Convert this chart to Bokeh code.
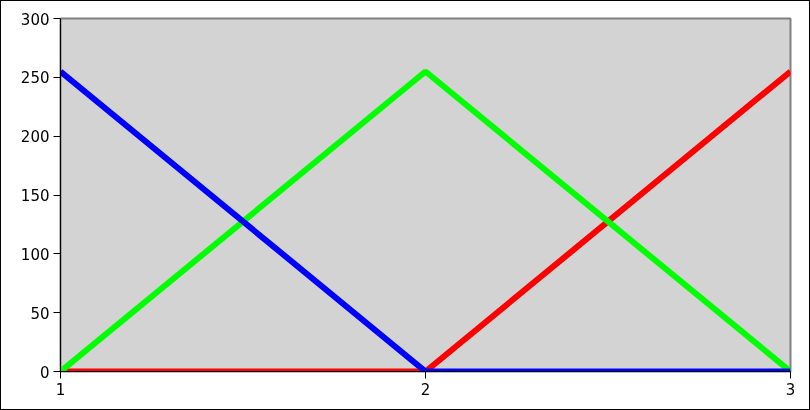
from bokeh.plotting import figure
from bokeh.embed import file_html
from bokeh.resources import INLINE
from bokeh.models import Range1d, FixedTicker

x_vals = [1, 2, 3]
red_vals = [0, 0, 255]
green_vals = [0, 255, 0]
blue_vals = [255, 0, 0]
x_ticks = [1, 2, 3]
y_ticks = [0, 50, 100, 150, 200, 250, 300]

p = figure(width=810, height=410, output_backend="svg", toolbar_location=None,
           x_range=Range1d(1, 3), y_range=Range1d(0, 300),
           min_border_left=59, min_border_right=21, min_border_top=17, min_border_bottom=40)
p.styles = {"position": "fixed", "top": "0px", "left": "0px", "border": "1px solid black",
            "box-sizing": "border-box"}
p.background_fill_color = "#d3d3d3"
p.border_fill_color = "white"
p.outline_line_color = "gray"
p.outline_line_width = 2
p.xgrid.visible = False
p.ygrid.visible = False

for vals, col in [(red_vals, "#ff0000"), (green_vals, "#00ff00"), (blue_vals, "#0000ff")]:
    p.line(x_vals, vals, line_color=col, line_width=6)

for ax in (p.xaxis[0], p.yaxis[0]):
    ax.major_label_text_font = "DejaVu Sans"
    ax.major_label_text_font_size = "15px"
    ax.major_label_text_color = "black"
    ax.axis_line_color = "black"
    ax.axis_line_width = 1
    ax.major_tick_line_color = "black"
    ax.major_tick_in = 0
    ax.major_tick_out = 7
    ax.minor_tick_line_color = None
    ax.major_label_standoff = 4
p.xaxis[0].ticker = FixedTicker(ticks=x_ticks)
p.yaxis[0].ticker = FixedTicker(ticks=y_ticks)

open("out.html", "w").write(file_html(p, INLINE))
